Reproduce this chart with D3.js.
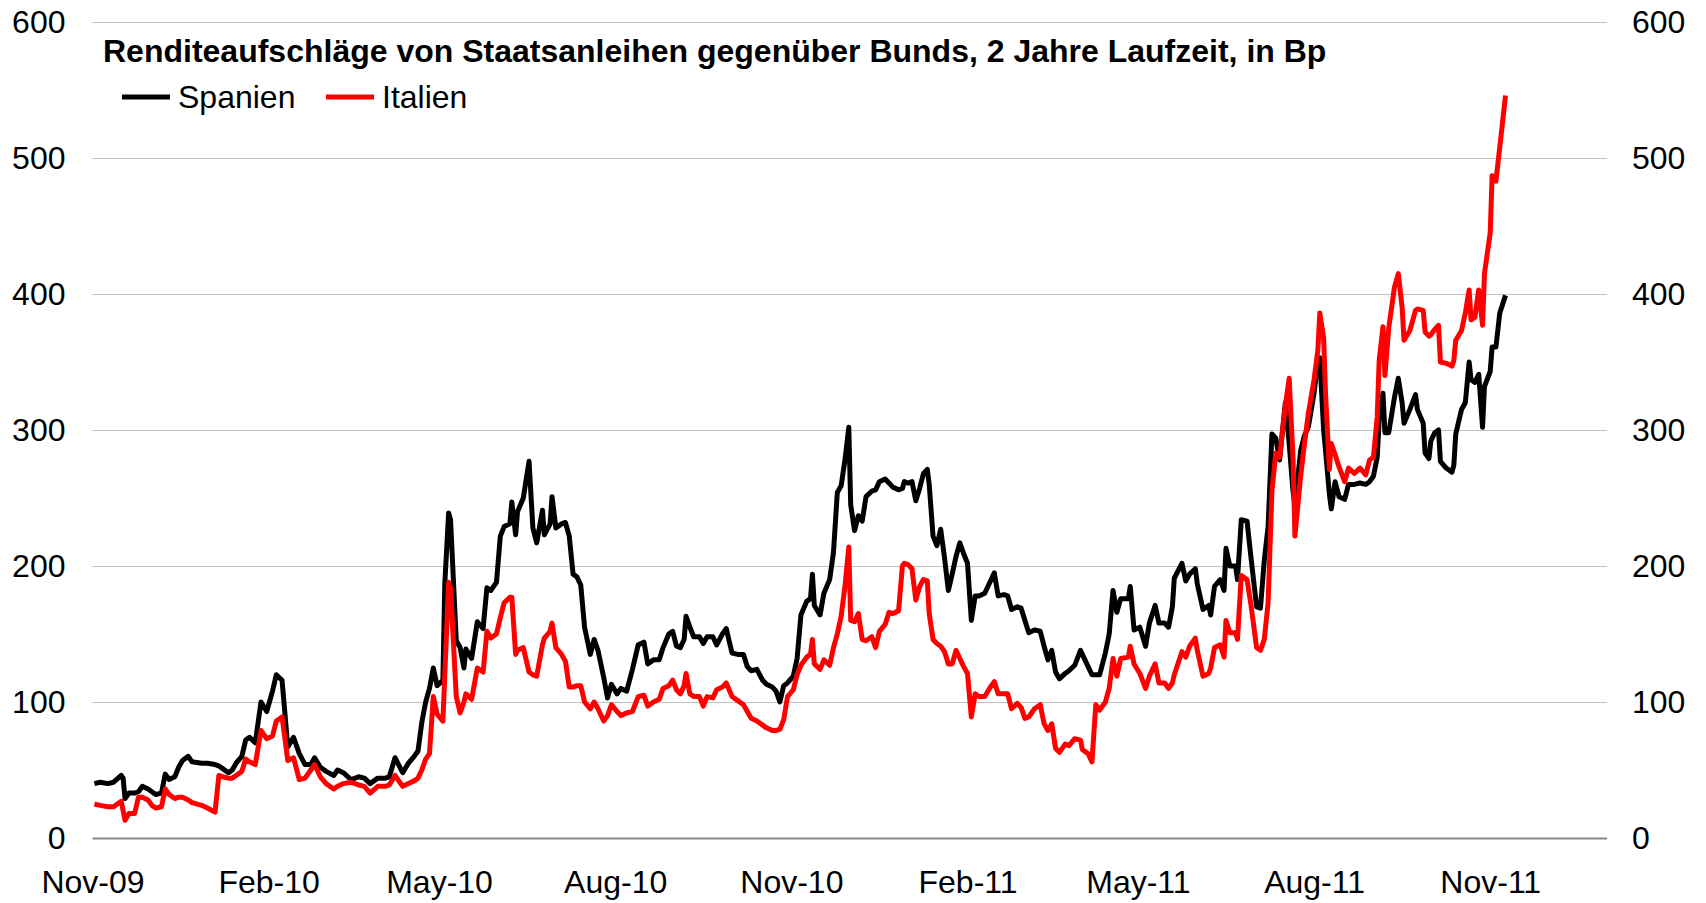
<!DOCTYPE html>
<html>
<head>
<meta charset="utf-8">
<script src="https://cdn.jsdelivr.net/npm/d3@7/dist/d3.min.js"></script>
<style>
  body { margin: 0; background: #fff; }
  text { font-family: "Liberation Sans", Arial, sans-serif; }
</style>
</head>
<body>
<div class="canvas"></div>
<script>
// title + legend
const title = "Renditeaufschläge von Staatsanleihen gegenüber Bunds, 2 Jahre Laufzeit, in Bp";
const seriesNames = ["Spanien", "Italien"];
const seriesColors = ["#000000", "#ff0000"];

// axis ticks
const yTicks = [0, 100, 200, 300, 400, 500, 600];
const xTicks = ["2009-11-01", "2010-02-01", "2010-05-01", "2010-08-01", "2010-11-01",
  "2011-02-01", "2011-05-01", "2011-08-01", "2011-11-01"];

const dates = [
  "2009-11-02", "2009-11-05", "2009-11-09", "2009-11-12", "2009-11-16", "2009-11-17", "2009-11-18", "2009-11-20",
  "2009-11-23", "2009-11-25", "2009-11-27", "2009-11-30", "2009-12-02", "2009-12-04", "2009-12-07", "2009-12-09",
  "2009-12-11", "2009-12-14", "2009-12-16", "2009-12-18", "2009-12-21", "2009-12-23", "2009-12-28", "2009-12-31",
  "2010-01-04", "2010-01-06", "2010-01-08", "2010-01-11", "2010-01-13", "2010-01-15", "2010-01-18", "2010-01-20",
  "2010-01-22", "2010-01-25", "2010-01-28", "2010-01-31", "2010-02-03", "2010-02-05", "2010-02-08", "2010-02-11",
  "2010-02-14", "2010-02-17", "2010-02-20", "2010-02-23", "2010-02-25", "2010-02-28", "2010-03-03", "2010-03-07",
  "2010-03-09", "2010-03-12", "2010-03-16", "2010-03-20", "2010-03-23", "2010-03-26", "2010-03-30", "2010-04-03",
  "2010-04-05", "2010-04-08", "2010-04-12", "2010-04-15", "2010-04-18", "2010-04-20", "2010-04-22", "2010-04-24",
  "2010-04-26", "2010-04-28", "2010-04-30", "2010-05-03", "2010-05-04", "2010-05-06", "2010-05-07", "2010-05-10",
  "2010-05-12", "2010-05-14", "2010-05-15", "2010-05-18", "2010-05-21", "2010-05-24", "2010-05-26", "2010-05-28",
  "2010-05-31", "2010-06-02", "2010-06-04", "2010-06-07", "2010-06-08", "2010-06-10", "2010-06-11", "2010-06-14",
  "2010-06-17", "2010-06-19", "2010-06-21", "2010-06-24", "2010-06-25", "2010-06-28", "2010-06-29", "2010-07-01",
  "2010-07-04", "2010-07-06", "2010-07-08", "2010-07-10", "2010-07-12", "2010-07-14", "2010-07-16", "2010-07-19",
  "2010-07-21", "2010-07-23", "2010-07-26", "2010-07-28", "2010-07-30", "2010-08-02", "2010-08-04", "2010-08-07",
  "2010-08-10", "2010-08-13", "2010-08-16", "2010-08-18", "2010-08-21", "2010-08-24", "2010-08-26", "2010-08-29",
  "2010-08-31", "2010-09-02", "2010-09-04", "2010-09-06", "2010-09-07", "2010-09-09", "2010-09-11", "2010-09-14",
  "2010-09-16", "2010-09-18", "2010-09-21", "2010-09-23", "2010-09-26", "2010-09-28", "2010-10-01", "2010-10-04",
  "2010-10-07", "2010-10-09", "2010-10-11", "2010-10-14", "2010-10-17", "2010-10-19", "2010-10-22", "2010-10-24",
  "2010-10-26", "2010-10-28", "2010-10-30", "2010-11-02", "2010-11-04", "2010-11-06", "2010-11-09", "2010-11-11",
  "2010-11-12", "2010-11-13", "2010-11-16", "2010-11-18", "2010-11-21", "2010-11-23", "2010-11-25", "2010-11-27",
  "2010-11-29", "2010-12-01", "2010-12-02", "2010-12-04", "2010-12-06", "2010-12-08", "2010-12-10", "2010-12-13",
  "2010-12-15", "2010-12-17", "2010-12-20", "2010-12-22", "2010-12-24", "2010-12-27", "2010-12-29", "2010-12-30",
  "2011-01-01", "2011-01-03", "2011-01-05", "2011-01-07", "2011-01-09", "2011-01-11", "2011-01-12", "2011-01-14",
  "2011-01-16", "2011-01-18", "2011-01-20", "2011-01-22", "2011-01-24", "2011-01-26", "2011-01-28", "2011-01-30",
  "2011-02-01", "2011-02-03", "2011-02-05", "2011-02-07", "2011-02-10", "2011-02-13", "2011-02-15", "2011-02-17",
  "2011-02-20", "2011-02-22", "2011-02-24", "2011-02-27", "2011-03-01", "2011-03-03", "2011-03-05", "2011-03-08",
  "2011-03-11", "2011-03-13", "2011-03-15", "2011-03-17", "2011-03-19", "2011-03-21", "2011-03-24", "2011-03-26",
  "2011-03-29", "2011-04-01", "2011-04-02", "2011-04-05", "2011-04-07", "2011-04-09", "2011-04-11", "2011-04-14",
  "2011-04-16", "2011-04-18", "2011-04-20", "2011-04-22", "2011-04-26", "2011-04-27", "2011-04-29", "2011-05-02",
  "2011-05-05", "2011-05-07", "2011-05-10", "2011-05-12", "2011-05-15", "2011-05-17", "2011-05-19", "2011-05-20",
  "2011-05-24", "2011-05-26", "2011-05-28", "2011-05-31", "2011-06-01", "2011-06-04", "2011-06-07", "2011-06-08",
  "2011-06-10", "2011-06-13", "2011-06-15", "2011-06-16", "2011-06-18", "2011-06-21", "2011-06-22", "2011-06-24",
  "2011-06-27", "2011-06-29", "2011-07-02", "2011-07-04", "2011-07-06", "2011-07-08", "2011-07-10", "2011-07-12",
  "2011-07-14", "2011-07-17", "2011-07-19", "2011-07-21", "2011-07-22", "2011-07-25", "2011-07-27", "2011-07-29",
  "2011-08-01", "2011-08-03", "2011-08-04", "2011-08-06", "2011-08-07", "2011-08-09", "2011-08-10", "2011-08-12",
  "2011-08-14", "2011-08-17", "2011-08-19", "2011-08-22", "2011-08-25", "2011-08-28", "2011-08-30", "2011-09-01",
  "2011-09-03", "2011-09-04", "2011-09-06", "2011-09-07", "2011-09-09", "2011-09-12", "2011-09-14", "2011-09-16",
  "2011-09-17", "2011-09-20", "2011-09-23", "2011-09-24", "2011-09-27", "2011-09-28", "2011-09-30", "2011-10-01",
  "2011-10-03", "2011-10-05", "2011-10-06", "2011-10-09", "2011-10-12", "2011-10-13", "2011-10-14", "2011-10-17",
  "2011-10-19", "2011-10-21", "2011-10-22", "2011-10-24", "2011-10-26", "2011-10-28", "2011-10-29", "2011-11-01",
  "2011-11-02", "2011-11-04", "2011-11-06", "2011-11-09"
];

// spread Spain vs Bund, bp
const spanien = [
  40, 41, 40, 41, 46, 44, 29, 33, 33, 34, 38, 36, 34, 32, 33, 47,
  43, 45, 52, 57, 60, 56, 55, 55, 54, 53, 51, 48, 50, 55, 60, 72,
  74, 70, 100, 93, 108, 120, 116, 67, 74, 62, 54, 54, 59, 52, 49, 46,
  50, 48, 43, 45, 44, 40, 44, 44, 45, 59, 48, 55, 60, 64, 85, 100,
  110, 125, 112, 116, 187, 239, 234, 145, 140, 125, 139, 132, 159, 154, 184, 182,
  188, 222, 229, 231, 247, 223, 240, 250, 277, 228, 217, 241, 223, 231, 251, 228,
  231, 232, 222, 194, 192, 186, 155, 135, 146, 138, 118, 103, 113, 106, 110, 108,
  124, 142, 144, 128, 131, 131, 140, 150, 152, 141, 140, 146, 163, 155, 148, 148,
  143, 148, 148, 142, 150, 154, 136, 135, 135, 126, 123, 124, 116, 113, 111, 108,
  100, 112, 114, 119, 132, 164, 174, 176, 194, 171, 164, 180, 190, 210, 254, 259,
  278, 302, 245, 226, 237, 233, 251, 255, 256, 262, 264, 261, 258, 256, 257, 262,
  261, 262, 248, 257, 268, 271, 260, 222, 215, 227, 206, 182, 194, 207, 217, 209,
  202, 160, 178, 178, 180, 189, 195, 178, 179, 178, 168, 170, 169, 160, 151, 153,
  152, 141, 131, 138, 122, 117, 121, 123, 127, 138, 135, 126, 120, 120, 120, 136,
  150, 182, 166, 176, 176, 185, 153, 155, 141, 158, 171, 158, 158, 155, 170, 191,
  202, 189, 194, 198, 187, 168, 171, 164, 185, 190, 182, 213, 200, 200, 190, 234,
  233, 207, 170, 169, 204, 229, 297, 294, 278, 320, 290, 255, 245, 285, 296, 302,
  327, 352, 353, 300, 285, 253, 242, 262, 251, 249, 260, 260, 261, 260, 262, 266,
  280, 307, 327, 298, 298, 324, 338, 320, 305, 315, 326, 315, 305, 283, 279, 292,
  298, 300, 277, 272, 269, 274, 297, 315, 320, 350, 337, 335, 341, 302, 332, 343,
  361, 361, 386, 399
];

// spread Italy vs Bund, bp
const italien = [
  25, 24, 23, 23, 27, 20, 13, 18, 18, 30, 30, 28, 24, 22, 23, 36,
  32, 29, 30, 30, 28, 26, 24, 22, 19, 46, 45, 44, 44, 46, 49, 58,
  56, 54, 79, 73, 75, 86, 89, 57, 59, 43, 44, 50, 54, 45, 40, 36,
  38, 40, 41, 39, 38, 33, 38, 38, 39, 46, 38, 40, 42, 44, 50, 58,
  62, 104, 91, 86, 120, 188, 184, 104, 92, 100, 106, 102, 125, 122, 152, 147,
  150, 162, 173, 177, 177, 135, 138, 140, 122, 120, 119, 142, 147, 152, 158, 140,
  135, 130, 111, 111, 112, 112, 100, 95, 100, 95, 86, 90, 98, 93, 90, 92,
  93, 104, 105, 97, 100, 102, 110, 112, 116, 109, 106, 112, 121, 106, 104, 104,
  97, 104, 103, 109, 111, 114, 104, 101, 98, 93, 88, 86, 83, 81, 79, 79,
  80, 87, 104, 109, 120, 127, 133, 135, 146, 128, 124, 131, 127, 140, 150, 163,
  185, 214, 160, 159, 165, 146, 145, 148, 140, 152, 157, 166, 165, 167, 200, 202,
  201, 198, 175, 185, 190, 189, 165, 146, 143, 141, 137, 128, 128, 138, 132, 126,
  121, 89, 106, 104, 104, 111, 115, 106, 106, 106, 95, 99, 96, 88, 89, 95,
  98, 84, 79, 84, 66, 63, 69, 68, 73, 72, 65, 62, 56, 98, 94, 100,
  110, 132, 119, 132, 133, 141, 128, 121, 110, 119, 128, 114, 114, 110, 114, 120,
  137, 133, 141, 147, 138, 119, 121, 125, 140, 142, 133, 160, 151, 151, 146, 193,
  190, 172, 140, 138, 146, 173, 255, 283, 280, 318, 338, 280, 222, 266, 290, 312,
  337, 359, 386, 368, 327, 271, 290, 282, 273, 262, 272, 268, 272, 267, 278, 280,
  310, 351, 376, 340, 375, 405, 415, 390, 366, 373, 388, 389, 388, 372, 369, 370,
  374, 377, 350, 349, 347, 351, 366, 373, 386, 403, 381, 383, 403, 377, 415, 445,
  487, 483, 508, 546
];

// dimensions
const dims = { width: 1706, height: 903 };
const plot = { left: 92.5, right: 1607, top: 22, bottom: 838 };

const parse = d3.timeParse("%Y-%m-%d");

const svg = d3
  .select(".canvas")
  .append("svg")
  .attr("width", dims.width)
  .attr("height", dims.height)
  .style("display", "block");

svg.append("rect").attr("width", dims.width).attr("height", dims.height).attr("fill", "#fff");

// scales
const x = d3
  .scaleTime()
  .domain([parse("2009-11-01"), parse("2012-01-01")])
  .range([plot.left, plot.right]);

const y = d3.scaleLinear().domain([0, 600]).range([plot.bottom, plot.top]);

// gridlines
const grid = svg
  .append("g")
  .attr("transform", `translate(${plot.left}, 0)`)
  .call(d3.axisLeft(y).tickValues(yTicks).tickSize(-(plot.right - plot.left)).tickFormat(""));
grid.select(".domain").remove();
grid
  .selectAll(".tick line")
  .attr("stroke", (d) => (d === 0 ? "#868686" : "#c0c0c0"))
  .attr("stroke-width", (d) => (d === 0 ? 2 : 1.2));

// left + right value axes
const fontSize = 32;
const leftAxis = svg
  .append("g")
  .attr("transform", `translate(${plot.left}, 0)`)
  .call(d3.axisLeft(y).tickValues(yTicks).tickSize(0).tickPadding(27));
const rightAxis = svg
  .append("g")
  .attr("transform", `translate(${plot.right}, 0)`)
  .call(d3.axisRight(y).tickValues(yTicks).tickSize(0).tickPadding(25));
[leftAxis, rightAxis].forEach((g) => {
  g.select(".domain").remove();
  g.selectAll("text")
    .attr("font-size", fontSize)
    .attr("font-family", '"Liberation Sans", Arial, sans-serif')
    .attr("fill", "#000");
});

// date axis
const bottomAxis = svg
  .append("g")
  .attr("transform", `translate(0, ${plot.bottom})`)
  .call(
    d3.axisBottom(x)
      .tickValues(xTicks.map(parse))
      .tickSize(0)
      .tickFormat(d3.timeFormat("%b-%y"))
  );
bottomAxis.select(".domain").remove();
bottomAxis
  .selectAll("text")
  .attr("y", 55)
  .attr("dy", 0)
  .attr("font-size", fontSize)
  .attr("font-family", '"Liberation Sans", Arial, sans-serif')
  .attr("fill", "#000");

// lines
const series = seriesNames.map((name, i) => ({
  name,
  color: seriesColors[i],
  values: (i === 0 ? spanien : italien).map((v, j) => ({ date: parse(dates[j]), value: v })),
}));

const line = d3
  .line()
  .x((d) => x(d.date))
  .y((d) => y(d.value));

svg
  .append("g")
  .selectAll("path")
  .data(series)
  .enter()
  .append("path")
  .attr("d", (d) => line(d.values))
  .attr("fill", "none")
  .attr("stroke", (d) => d.color)
  .attr("stroke-width", 5)
  .attr("stroke-linejoin", "round");

// title
svg
  .append("text")
  .attr("x", 103)
  .attr("y", 62)
  .attr("font-size", 32)
  .attr("font-weight", "bold")
  .text(title);

// legend
const legendX = [122, 326];
const legend = svg
  .append("g")
  .selectAll("g")
  .data(series)
  .enter()
  .append("g")
  .attr("transform", (d, i) => `translate(${legendX[i]}, 97)`);
legend
  .append("line")
  .attr("x1", 0)
  .attr("x2", 48)
  .attr("stroke", (d) => d.color)
  .attr("stroke-width", 5);
legend
  .append("text")
  .attr("x", 56)
  .attr("y", 11)
  .attr("font-size", fontSize)
  .text((d) => d.name);
</script>
</body>
</html>
